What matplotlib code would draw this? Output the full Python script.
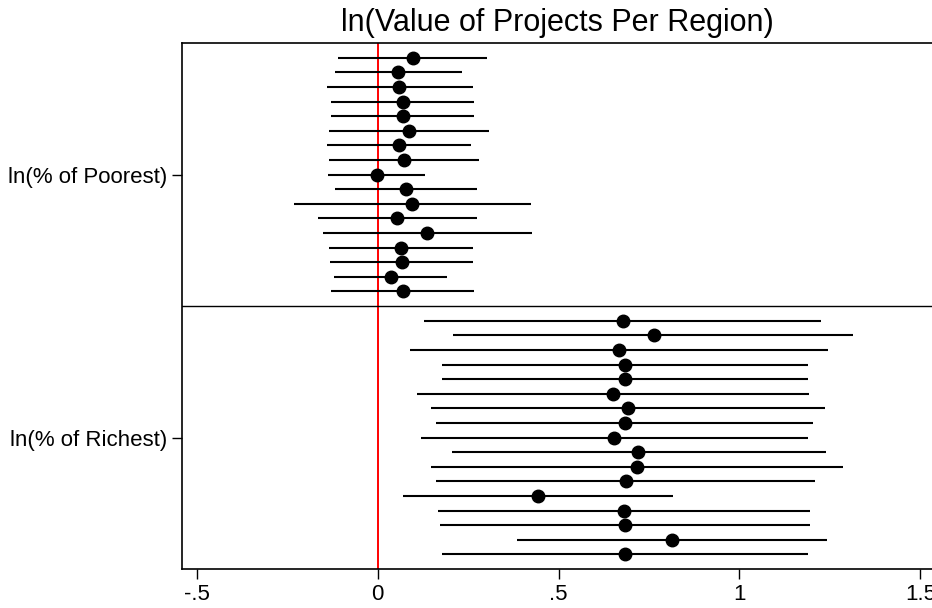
import numpy as np
import matplotlib.pyplot as plt

plt.rcParams['font.family'] = ['Liberation Sans', 'DejaVu Sans']

# estimates and 95% CI, top to bottom
poor_coef = [0.097, 0.057, 0.060, 0.069, 0.069, 0.086, 0.058, 0.074, -0.002,
             0.079, 0.096, 0.054, 0.137, 0.065, 0.067, 0.036, 0.069]
poor_lo = [-0.108, -0.117, -0.140, -0.128, -0.128, -0.134, -0.139, -0.134, -0.136,
           -0.117, -0.231, -0.164, -0.151, -0.134, -0.132, -0.119, -0.128]
poor_hi = [0.303, 0.233, 0.264, 0.266, 0.266, 0.307, 0.259, 0.281, 0.130,
           0.274, 0.423, 0.274, 0.426, 0.263, 0.264, 0.192, 0.266]

rich_coef = [0.677, 0.764, 0.667, 0.685, 0.685, 0.650, 0.692, 0.683, 0.653,
             0.721, 0.716, 0.686, 0.443, 0.681, 0.685, 0.814, 0.685]
rich_lo = [0.128, 0.209, 0.090, 0.179, 0.179, 0.108, 0.147, 0.162, 0.119,
           0.205, 0.148, 0.161, 0.070, 0.166, 0.173, 0.386, 0.179]
rich_hi = [1.226, 1.315, 1.246, 1.188, 1.188, 1.192, 1.237, 1.202, 1.188,
           1.240, 1.285, 1.210, 0.815, 1.195, 1.195, 1.241, 1.188]

groups = ['ln(% of Poorest)', 'ln(% of Richest)']
xticks = [-0.5, 0, 0.5, 1, 1.5]
xticklabels = ['-.5', '0', '.5', '1', '1.5']

fig = plt.figure(figsize=(9.32, 6.08), dpi=100)
ax = fig.add_axes([0.1958, 0.0641, 0.8042, 0.8649])

n = len(poor_coef)
y_poor = np.arange(1, n + 1)
y_rich = np.arange(n + 2, 2 * n + 2)

for ys, c, lo, hi in [(y_poor, poor_coef, poor_lo, poor_hi),
                      (y_rich, rich_coef, rich_lo, rich_hi)]:
    ax.hlines(ys, lo, hi, color='black', lw=1.5)
    ax.plot(c, ys, 'o', color='black', ms=9)

ax.axvline(0, color='red', lw=1.4, zorder=0)
ax.axhline(n + 1, color='black', lw=1.0)

ax.set_ylim(2 * n + 2, 0)
ax.set_xlim(-0.539, 1.532)
ax.set_yticks([(n + 1) / 2, n + 1 + (n + 1) / 2])
ax.set_yticklabels(groups, fontsize=16)
ax.set_xticks(xticks)
ax.set_xticklabels(xticklabels, fontsize=16)
ax.tick_params(direction='out', length=7, width=1.0, pad=4)
ax.spines['right'].set_visible(False)
for s in ['left', 'top', 'bottom']:
    ax.spines[s].set_linewidth(1.2)

ax.set_title('ln(Value of Projects Per Region)', fontsize=22, pad=9)

plt.savefig('out.png', dpi=100)
